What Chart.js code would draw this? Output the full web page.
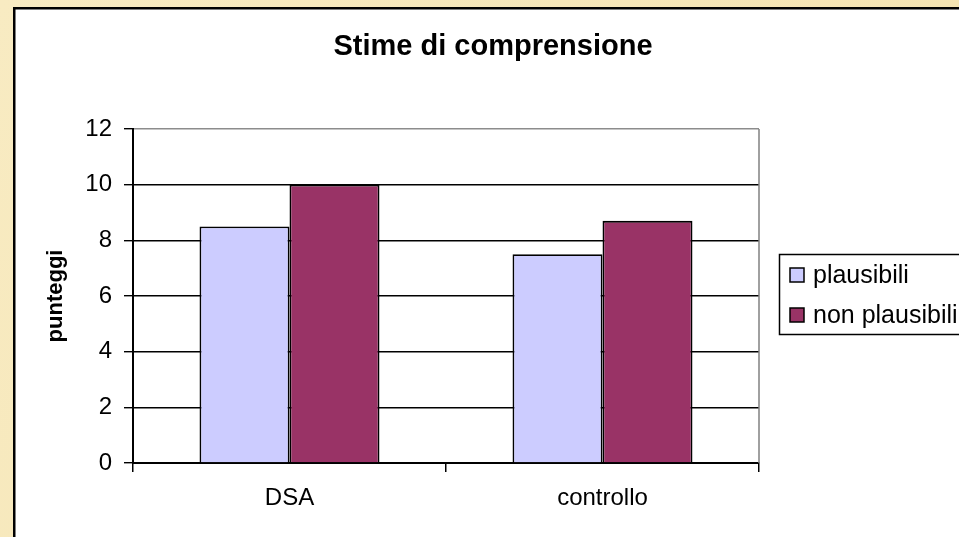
<!DOCTYPE html>
<html>
<head>
<meta charset="utf-8">
<script src="https://cdn.jsdelivr.net/npm/chart.js@4/dist/chart.umd.min.js"></script>
<style>
  html, body { margin: 0; padding: 0; background: #f6e7b9; }
  canvas { display: block; }
</style>
</head>
<body>
<canvas id="chart" width="959" height="537"></canvas>
<script>
// Data
const categories = ['DSA', 'controllo'];
const plausibili = [8.5, 7.5];
const nonPlausibili = [10, 8.7];
const yTicks = [0, 2, 4, 6, 8, 10, 12];
const titleText = 'Stime di comprensione';
const yAxisTitle = 'punteggi';

const FONT = '"Liberation Sans", Arial, sans-serif';

// Slide background, white chart frame, title, plot border and legend box
const framePlugin = {
  id: 'frame',
  beforeDraw(chart) {
    const ctx = chart.ctx;
    ctx.save();
    const g = ctx.createLinearGradient(0, 0, chart.width, chart.height);
    g.addColorStop(0, '#f8ebc2');
    g.addColorStop(1, '#f4e2ae');
    ctx.fillStyle = g;
    ctx.fillRect(0, 0, chart.width, chart.height);
    ctx.fillStyle = '#ffffff';
    ctx.fillRect(14, 8, chart.width, chart.height);
    ctx.strokeStyle = '#000000';
    ctx.lineWidth = 2.5;
    ctx.beginPath();
    ctx.moveTo(14.25, chart.height + 5);
    ctx.lineTo(14.25, 8.25);
    ctx.lineTo(chart.width + 5, 8.25);
    ctx.stroke();
    ctx.restore();
  },
  afterDraw(chart) {
    const ctx = chart.ctx;
    const area = chart.chartArea;
    ctx.save();
    // right edge of the plot area
    ctx.strokeStyle = '#808080';
    ctx.lineWidth = 1.5;
    ctx.beginPath();
    ctx.moveTo(area.right, area.top);
    ctx.lineTo(area.right, area.bottom);
    ctx.stroke();

    // title
    ctx.fillStyle = '#000000';
    ctx.font = 'bold 29px ' + FONT;
    ctx.textAlign = 'center';
    ctx.textBaseline = 'middle';
    ctx.fillText(titleText, 493, 47);

    // legend
    const lx = 779, ly = 254, lw = 200, lh = 80;
    ctx.strokeStyle = '#000000';
    ctx.lineWidth = 1.5;
    ctx.strokeRect(lx + 0.5, ly + 0.5, lw, lh);
    ctx.font = '25px ' + FONT;
    ctx.textAlign = 'left';
    chart.data.datasets.forEach((ds, i) => {
      const cy = 275 + i * 40;
      ctx.fillStyle = ds.backgroundColor;
      ctx.fillRect(790, cy - 7, 14, 14);
      ctx.strokeStyle = '#000000';
      ctx.lineWidth = 1.5;
      ctx.strokeRect(790, cy - 7, 14, 14);
      ctx.fillStyle = '#000000';
      ctx.fillText(ds.label, 813, cy + 1);
    });
    ctx.restore();
  }
};

new Chart(document.getElementById('chart'), {
  type: 'bar',
  data: {
    labels: categories,
    datasets: [
      {
        label: 'plausibili',
        data: plausibili,
        backgroundColor: '#ccccff',
        borderColor: '#000000',
        borderWidth: 1.8,
        categoryPercentage: 0.575,
        barPercentage: 1.0
      },
      {
        label: 'non plausibili',
        data: nonPlausibili,
        backgroundColor: '#993366',
        borderColor: '#000000',
        borderWidth: 1.8,
        categoryPercentage: 0.575,
        barPercentage: 1.0
      }
    ]
  },
  options: {
    responsive: false,
    animation: false,
    devicePixelRatio: 1,
    layout: { padding: { left: 27, right: 200, top: 129, bottom: 0 } },
    plugins: {
      legend: { display: false },
      title: { display: false },
      tooltip: { enabled: false }
    },
    scales: {
      x: {
        offset: true,
        grid: {
          display: true,
          offset: true,
          drawOnChartArea: false,
          drawTicks: true,
          tickLength: 9,
          color: '#000000',
          lineWidth: 1.5
        },
        border: { display: true, color: '#000000', width: 2 },
        ticks: {
          color: '#000000',
          font: { family: FONT, size: 24 },
          padding: 12
        },
        afterFit(scale) { scale.height = 74; }
      },
      y: {
        min: 0,
        max: 12,
        afterBuildTicks(scale) { scale.ticks = yTicks.map(v => ({ value: v })); },
        grid: {
          color: ctx => (ctx.tick && ctx.tick.value === 12 ? '#8c8c8c' : '#000000'),
          tickColor: '#000000',
          lineWidth: 1.4,
          tickLength: 9
        },
        border: { display: true, color: '#000000', width: 2 },
        ticks: {
          color: '#000000',
          font: { family: FONT, size: 24 },
          padding: 12
        },
        title: {
          display: true,
          text: yAxisTitle,
          color: '#000000',
          font: { family: FONT, size: 22, weight: 'bold' },
          padding: { top: 16, bottom: 0 }
        },
        afterFit(scale) { scale.width = 106; }
      }
    }
  },
  plugins: [framePlugin]
});
</script>
</body>
</html>
